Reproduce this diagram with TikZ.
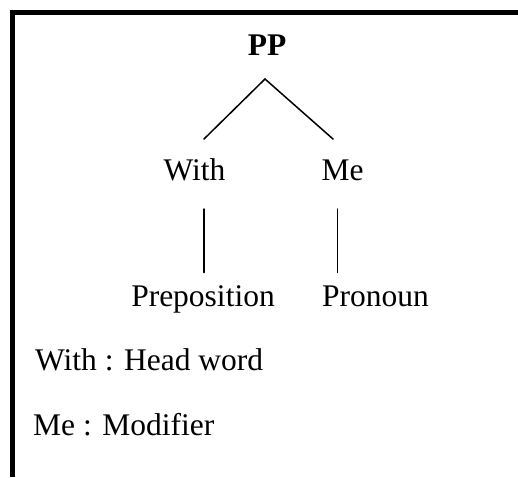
\documentclass[tikz,border=0pt]{standalone}
\usepackage{fontspec}
\setmainfont{Liberation Serif}
\begin{document}
\begin{tikzpicture}[x=1pt,y=-1pt,
  word/.style={inner sep=0pt,anchor=base,font=\fontsize{31.5}{36}\selectfont},
  note/.style={inner sep=0pt,anchor=base west,font=\fontsize{31.5}{36}\selectfont},
  branch/.style={line width=1.5pt,line cap=round},
  frame/.style={line width=5.5pt,miter limit=10}]
\useasboundingbox (0,0) rectangle (518,477);
% open frame: left and top edges
\draw[frame] (12.5,477) -- (12.5,12.5) -- (518,12.5);
% words of the tree
\node[word,font=\fontsize{31.5}{36}\selectfont\bfseries] (pp) at (267,55) {PP};
\node[word] (with) at (194.5,180.7) {With};
\node[word] (me) at (342.5,180.7) {Me};
\node[word] (prep) at (203,306.7) {Preposition};
\node[word] (pron) at (375.5,306.7) {Pronoun};
% branch ends
\coordinate (apex) at (265,79);
\coordinate (wtop) at (204,139);
\coordinate (mtop) at (333,139);
\coordinate (wa) at (204,209);
\coordinate (wb) at (204,272.5);
\coordinate (ma) at (337.7,209);
\coordinate (mb) at (337.7,272.5);
\draw[branch,line join=miter] (wtop) -- (apex) -- (mtop);
\draw[branch] (wa) -- (wb);
\draw[branch] (ma) -- (mb);
% legend
\node[note] (n1) at (35,370) {With : Head word};
\node[note] (n2) at (33,435) {Me : Modifier};
\end{tikzpicture}
\end{document}
